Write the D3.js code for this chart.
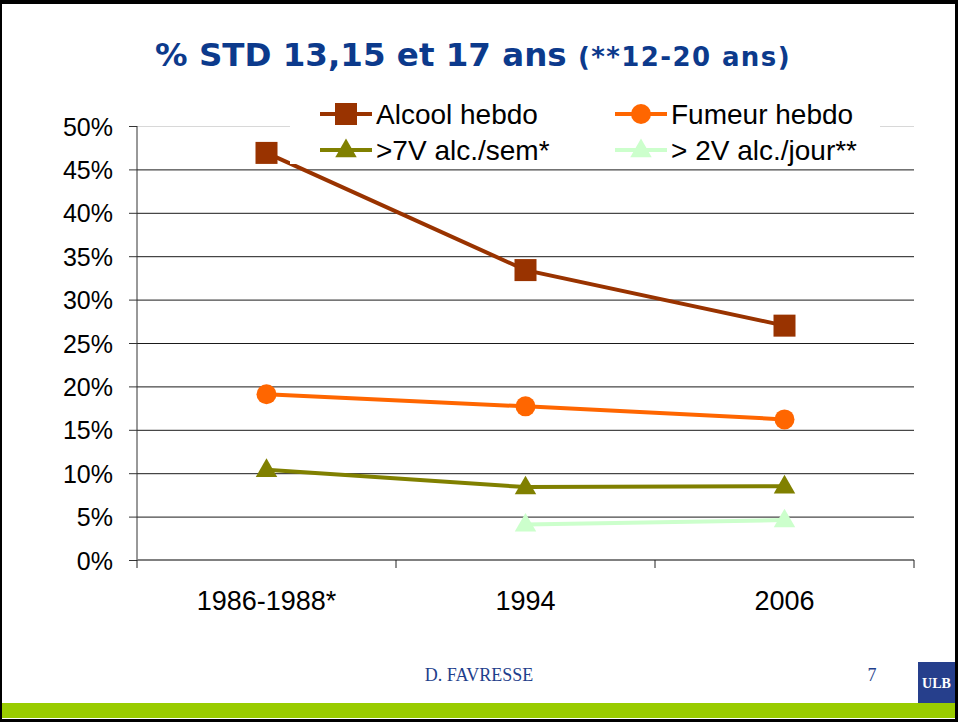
<!DOCTYPE html>
<html>
<head>
<meta charset="utf-8">
<script src="https://cdn.jsdelivr.net/npm/d3@7"></script>
<style>
  body { margin: 0; background: #fff; }
  svg { display: block; }
  text { font-family: "Liberation Sans", Arial, sans-serif; }
</style>
</head>
<body>
<svg id="chart" width="958" height="722"></svg>
<script>
// data
const categories = ['1986-1988*', '1994', '2006'];
const alcoolHebdo = [0.469, 0.334, 0.270];
const fumeurHebdo = [0.191, 0.177, 0.162];
const plus7V = [0.104, 0.084, 0.085];
const plus2V = [null, 0.041, 0.046];
const yTicks = [0, 0.05, 0.1, 0.15, 0.2, 0.25, 0.3, 0.35, 0.4, 0.45, 0.5];

const series = [
  { name: 'Alcool hebdo', values: alcoolHebdo, color: '#993300', marker: 'square' },
  { name: 'Fumeur hebdo', values: fumeurHebdo, color: '#ff6600', marker: 'circle' },
  { name: '>7V alc./sem*', values: plus7V, color: '#808000', marker: 'triangle' },
  { name: '> 2V alc./jour**', values: plus2V, color: '#ccffcc', marker: 'triangle' }
];

const svg = d3.select('#chart');
const W = 958, H = 722;
const plot = { left: 137, right: 914, top: 126, bottom: 560 };

// slide frame + footer band
svg.append('rect').attr('x', 0).attr('y', 0).attr('width', W).attr('height', H).attr('fill', '#000');
svg.append('rect').attr('x', 2).attr('y', 4).attr('width', W - 5).attr('height', H - 7).attr('fill', '#fff');
svg.append('rect').attr('x', 2).attr('y', 703).attr('width', W - 5).attr('height', 15).attr('fill', '#99cc00');
svg.append('rect').attr('x', 918).attr('y', 662).attr('width', 37).attr('height', 41).attr('fill', '#263f8c');
svg.append('text').attr('x', 936.5).attr('y', 688).attr('text-anchor', 'middle')
  .attr('fill', '#fff').style('font-family', '"Liberation Serif", serif')
  .style('font-weight', 'bold').style('font-size', '14px').text('ULB');
svg.append('text').attr('x', 479).attr('y', 681).attr('text-anchor', 'middle')
  .attr('fill', '#1f3f8c').style('font-family', '"Liberation Serif", serif')
  .style('font-size', '18px').text('D. FAVRESSE');
svg.append('text').attr('x', 872).attr('y', 681).attr('text-anchor', 'middle')
  .attr('fill', '#1f3f8c').style('font-family', '"Liberation Serif", serif')
  .style('font-size', '18px').text('7');

// title
const title = svg.append('text').attr('x', 155).attr('y', 66)
  .attr('fill', '#0c3a8c').style('font-family', '"DejaVu Sans", Verdana, sans-serif')
  .style('font-weight', 'bold');
title.append('tspan').style('font-size', '32.5px').text('% STD 13,15 et 17 ans ');
title.append('tspan').style('font-size', '26px').style('letter-spacing', '1.4px').text('(**12-20 ans)');

// scales
const x = d3.scaleBand().domain(categories).range([plot.left, plot.right]).padding(0);
const y = d3.scaleLinear().domain([0, 0.5]).range([plot.bottom, plot.top]);
const cx = (i) => x(categories[i]) + x.bandwidth() / 2;

// gridlines
svg.append('g')
  .attr('transform', `translate(${plot.left},0)`)
  .call(d3.axisLeft(y).tickValues(yTicks.filter((t) => t > 0)).tickSize(-(plot.right - plot.left)).tickFormat(''))
  .call((g) => g.select('.domain').remove())
  .call((g) => g.selectAll('line').attr('stroke', (d) => (d === 0.5 ? '#d8d8d8' : '#1a1a1a')).attr('stroke-width', 1));

// y axis
const yAxis = svg.append('g')
  .attr('transform', `translate(${plot.left},0)`)
  .call(d3.axisLeft(y).tickValues(yTicks).tickSize(8).tickPadding(16).tickFormat(d3.format('.0%')));
yAxis.select('.domain').attr('stroke', '#333').attr('d', `M0,${plot.top}V${plot.bottom}`);
yAxis.selectAll('line').attr('stroke', '#333');
yAxis.selectAll('text').style('font-size', '25px').attr('fill', '#000').attr('dy', '0.36em');

// x axis with ticks on band edges
const xAxis = svg.append('g').attr('transform', `translate(0,${plot.bottom})`);
xAxis.append('line').attr('x1', plot.left).attr('x2', plot.right)
  .attr('stroke', '#808080').attr('stroke-width', 2);
const edges = categories.map((c) => x(c)).concat([plot.right]);
xAxis.selectAll('line.tick').data(edges).join('line').attr('class', 'tick')
  .attr('x1', (d) => d).attr('x2', (d) => d).attr('y1', 0).attr('y2', 8)
  .attr('stroke', '#222').attr('stroke-width', 1);
xAxis.selectAll('text').data(categories).join('text')
  .attr('x', (d) => x(d) + x.bandwidth() / 2).attr('y', 50)
  .attr('text-anchor', 'middle').style('font-size', '27px').attr('fill', '#000').text((d) => d);

// markers
const tri = d3.symbol().type(d3.symbolTriangle).size(200);
function drawMarker(g, type, color, px, py) {
  if (type === 'square') {
    g.append('rect').attr('x', px - 11).attr('y', py - 11).attr('width', 22).attr('height', 22).attr('fill', color);
  } else if (type === 'circle') {
    g.append('circle').attr('cx', px).attr('cy', py).attr('r', 10).attr('fill', color);
  } else {
    g.append('path').attr('d', tri).attr('transform', `translate(${px},${py + 1})`).attr('fill', color);
  }
}

// series lines
const line = d3.line().defined((d) => d.v != null).x((d) => cx(d.i)).y((d) => y(d.v));
series.slice().reverse().forEach((s) => {
  const pts = s.values.map((v, i) => ({ v, i }));
  const g = svg.append('g');
  g.append('path').datum(pts).attr('d', line).attr('fill', 'none')
    .attr('stroke', s.color).attr('stroke-width', 4);
  pts.filter((d) => d.v != null).forEach((d) => drawMarker(g, s.marker, s.color, cx(d.i), y(d.v)));
});

// legend
const legend = svg.append('g');
legend.append('rect').attr('x', 290).attr('y', 98).attr('width', 590).attr('height', 66).attr('fill', '#fff');
const legendPos = [[320, 114], [615, 114], [320, 150], [615, 150]];
series.forEach((s, i) => {
  const [lx, ly] = legendPos[i];
  const g = legend.append('g');
  g.append('line').attr('x1', lx).attr('x2', lx + 52).attr('y1', ly).attr('y2', ly)
    .attr('stroke', s.color).attr('stroke-width', 4);
  drawMarker(g, s.marker, s.color, lx + 26, ly);
  g.append('text').attr('x', lx + 56).attr('y', ly).attr('dy', '0.36em')
    .style('font-size', '28px').attr('fill', '#000').text(s.name);
});
</script>
</body>
</html>
